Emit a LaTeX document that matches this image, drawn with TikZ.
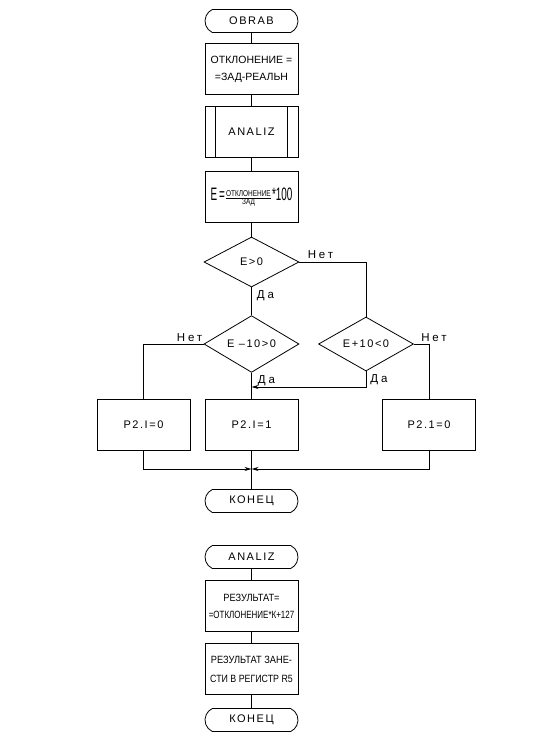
\documentclass[tikz,border=0pt]{standalone}
\usepackage{fontspec}
\setmainfont{Liberation Sans}
\newfontfamily\spacedfont{Liberation Sans}[LetterSpace=14]
\newfontfamily\labelfont{Liberation Sans}[LetterSpace=25]
\newfontfamily\midfont{Liberation Sans}[FakeStretch=0.88]
\newfontfamily\narrowfont{Liberation Sans}[FakeStretch=0.76]
\newfontfamily\thinfont{Liberation Sans}[FakeStretch=0.55]
\usetikzlibrary{shapes.geometric,shapes.misc,arrows.meta}

\begin{document}
\begin{tikzpicture}[x=1pt,y=-1pt,line width=0.8pt,
    term/.style={draw,rounded rectangle,rounded rectangle arc length=130,minimum width=93pt,minimum height=23pt,inner sep=0pt,font=\spacedfont\fontsize{11}{12}\selectfont},
    blk/.style={draw,rectangle,minimum width=93pt,minimum height=51pt,inner sep=0pt,align=center,font=\fontsize{10.5}{17}\selectfont},
    cond/.style={draw,diamond,minimum width=95pt,minimum height=50pt,inner sep=0pt,font=\spacedfont\fontsize{11}{12}\selectfont},
    lbl/.style={inner sep=0pt,font=\labelfont\fontsize{11.5}{12}\selectfont},
    arr/.style={-{Stealth[length=7pt,width=4pt]}}]
    \useasboundingbox (0,0) rectangle (533,742);
    % main flow
    \node[term] (t1) at (251.5,21) {OBRAB};
    \node[blk] (b1) at (251.5,69) {ОТКЛОНЕНИЕ =\\=ЗАД-РЕАЛЬН};
    \node[blk,font=\spacedfont\fontsize{11}{12}\selectfont] (b2) at (251.5,132) {ANALIZ};
    \draw ([xshift=11pt]b2.north west) -- ([xshift=11pt]b2.south west);
    \draw ([xshift=-11pt]b2.north east) -- ([xshift=-11pt]b2.south east);
    \node[blk] (b3) at (251.5,197) {{\thinfont\fontsize{18}{18}\selectfont E\hspace{2pt}=}%
      $\frac{\hbox{\narrowfont\fontsize{8.5}{9}\selectfont ОТКЛОНЕНИЕ}}{\hbox{\narrowfont\fontsize{8.5}{9}\selectfont ЗАД}}$%
      {\thinfont\fontsize{18}{18}\selectfont *100}};
    \node[cond] (d1) at (251.5,262) {E>0};
    \node[cond] (d2) at (251.5,344) {E –10>0};
    \node[cond] (d3) at (366,344) {E+10<0};
    \node[blk,font=\spacedfont\fontsize{11}{12}\selectfont] (p1) at (143.5,425) {P2.I=0};
    \node[blk,font=\spacedfont\fontsize{11}{12}\selectfont] (p2) at (251.5,425) {P2.I=1};
    \node[blk,font=\spacedfont\fontsize{11}{12}\selectfont] (p3) at (429,425) {P2.1=0};
    \node[term] (t2) at (251.5,501) {КОНЕЦ};
    % subroutine
    \node[term] (t3) at (251.5,557) {ANALIZ};
    \node[blk] (b4) at (251.5,606) {{\midfont РЕЗУЛЬТАТ=}\\{\narrowfont =ОТКЛОНЕНИЕ*К+127}};
    \node[blk,font=\fontsize{10.5}{19}\selectfont] (b5) at (251.5,669) {{\midfont РЕЗУЛЬТАТ ЗАНЕ-}\\{\narrowfont\addfontfeature{FakeStretch=0.84} СТИ В РЕГИСТР R5}};
    \node[term] (t4) at (251.5,720) {КОНЕЦ};
    \coordinate (j1) at (251.5,387);
    \coordinate (j2) at (251.5,469);
    % connectors
    \foreach \a/\b in {t1/b1,b1/b2,b2/b3,b3/d1,d1/d2,d2/p2,p2/t2,t3/b4,b4/b5,b5/t4}
        \draw (\a) -- (\b);
    \draw (d1.east) -| (d3.north);
    \draw (d2.west) -| (p1.north);
    \draw (d3.east) -| (p3.north);
    \draw[arr] (d3.south) |- (j1);
    \draw[arr] (p1.south) |- (j2);
    \draw[arr] (p3.south) |- (j2);
    % branch labels
    \node[lbl,anchor=south west] (n1) at ([xshift=8pt,yshift=3pt]d1.east) {Нет};
    \node[lbl,anchor=west] (y1) at ([xshift=5pt,yshift=-8pt]d1.south) {Да};
    \node[lbl,anchor=south east] (n2) at ([xshift=-1pt,yshift=2pt]d2.west) {Нет};
    \node[lbl,anchor=west] (y2) at ([xshift=6pt,yshift=-8pt]d2.south) {Да};
    \node[lbl,anchor=south west] (n3) at ([xshift=7pt,yshift=2pt]d3.east) {Нет};
    \node[lbl,anchor=west] (y3) at ([xshift=4pt,yshift=-8pt]d3.south) {Да};
\end{tikzpicture}
\end{document}
